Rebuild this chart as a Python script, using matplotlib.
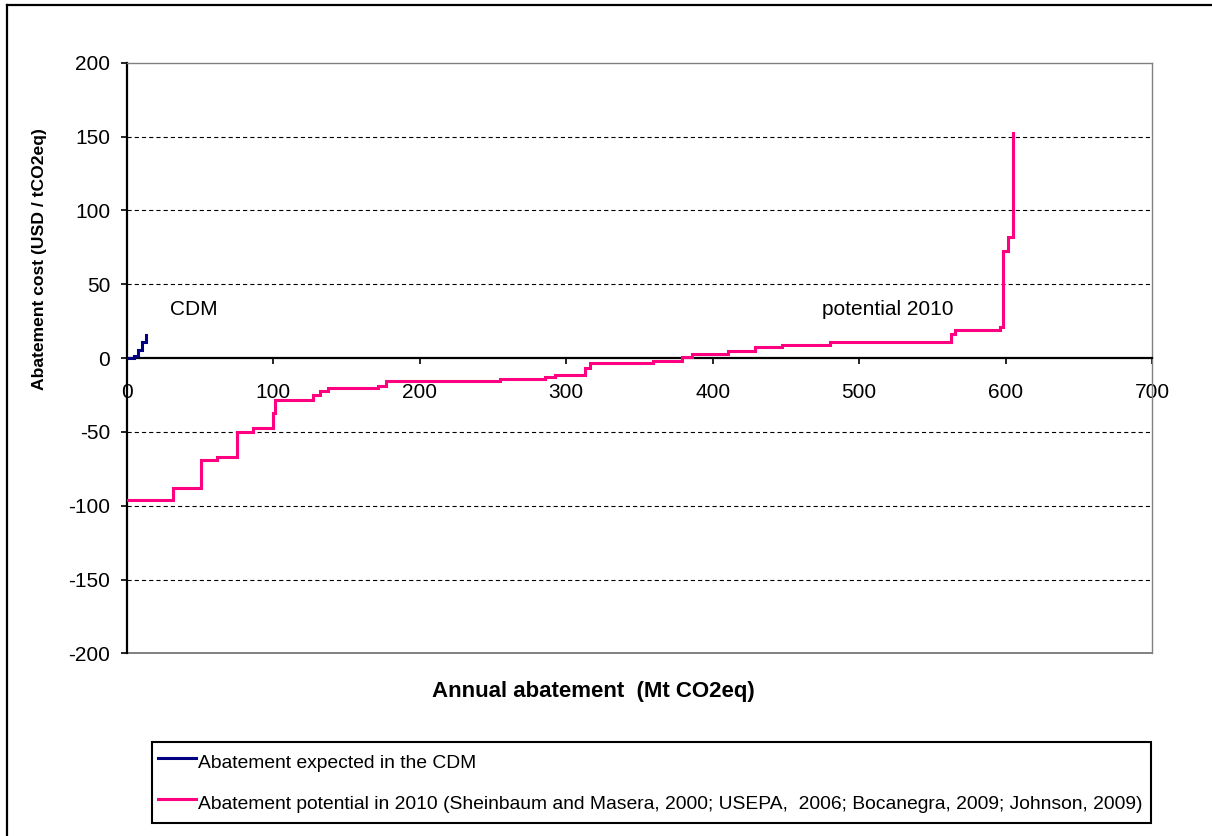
import matplotlib
matplotlib.use("Agg")
import matplotlib.pyplot as plt
from matplotlib.lines import Line2D

plt.rcParams['font.family'] = ['Liberation Sans', 'DejaVu Sans']
plt.rcParams['lines.scale_dashes'] = False
plt.rcParams['axes.unicode_minus'] = False

# abatement cost curves: start of each step (Mt CO2eq) and cost level (USD / tCO2eq)
cdm_x = [0, 4.6, 7.9, 10.2, 13.1]
cdm_y = [0, 1.4, 5.5, 11.1, 15.6]

pot_x = [0, 31.8, 50.7, 61.8, 75.4, 86.4, 100, 101.2, 127.3, 131.9, 137.4,
         171.5, 177, 254.8, 285.5, 292.3, 312.8, 316.5, 359.2, 379, 385.8,
         410.4, 428.8, 447.3, 480, 563, 565.4, 596.1, 598.2, 601.6, 604.8]
pot_y = [-96, -88.2, -69, -67.2, -50.3, -47.1, -37, -28.4, -25, -22, -20.5,
         -19, -15.3, -14.3, -12.9, -11.6, -6.5, -3.2, -1.8, 0.6, 2.7,
         4.7, 7.6, 9, 11.2, 16.6, 18.9, 21, 72.8, 81.8, 152.4]

x_ticks = [0, 100, 200, 300, 400, 500, 600, 700]
y_ticks = [-200, -150, -100, -50, 0, 50, 100, 150, 200]

cdm_label = 'Abatement expected in the CDM'
pot_label = ('Abatement potential in 2010 (Sheinbaum and Masera, 2000; USEPA,  2006; '
             'Bocanegra, 2009; Johnson, 2009)')

fig = plt.figure(figsize=(12.12, 8.36), dpi=100)
ax = fig.add_axes([126.8 / 1212, 1 - 653.3 / 836, 1025.2 / 1212, 590.4 / 836])

ax.step(cdm_x, cdm_y, where='post', color='#000080', lw=2.2, label=cdm_label,
        solid_joinstyle='miter', zorder=4)
ax.step(pot_x, pot_y, where='post', color='#FF0080', lw=2.2, label=pot_label,
        solid_joinstyle='miter', zorder=4)

ax.set_xlim(0, 700)
ax.set_ylim(-200, 200)
ax.set_xticks(x_ticks)
ax.set_yticks(y_ticks)

# x axis crosses at zero
ax.spines['bottom'].set_position(('data', 0))
ax.spines['bottom'].set_linewidth(1.6)
ax.spines['left'].set_linewidth(1.6)
for s in ['top', 'right']:
    ax.spines[s].set_color('#808080')
    ax.spines[s].set_linewidth(1.0)
ax.axhline(-200, color='#808080', lw=1.4, clip_on=False, zorder=1)

ax.yaxis.grid(True, color='black', lw=0.8, linestyle=(0, (3.0, 2.2)))
for t, v in zip(ax.yaxis.get_major_ticks(), y_ticks):
    if v in (-200, 0, 200):
        t.gridline.set_visible(False)

ax.tick_params(axis='x', direction='out', length=4, width=1.2, pad=14, labelsize=15)
ax.tick_params(axis='y', direction='out', length=4, width=1.2, pad=8, labelsize=15)

ax.set_xlabel('Annual abatement  (Mt CO2eq)', fontsize=16, fontweight='bold')
ax.xaxis.label.set_va('center')
ax.xaxis.set_label_coords(0.4548, -0.0655)
ax.set_ylabel('Abatement cost (USD / tCO2eq)', fontsize=12.6, fontweight='bold')
ax.yaxis.label.set_va('center')
ax.yaxis.set_label_coords(-0.0856, 0.668)

ax.text(29.5, 32.6, 'CDM', fontsize=15, va='center', ha='left')
ax.text(474.7, 32.6, 'potential 2010', fontsize=15, va='center', ha='left')

leg = fig.legend(loc='upper left',
                 bbox_to_anchor=(152 / 1212, 1 - 742 / 836, 999 / 1212, 0),
                 mode='expand', borderaxespad=0, fancybox=False,
                 edgecolor='black', framealpha=1, fontsize=13.85,
                 handlelength=2.0, handletextpad=0.1, handleheight=1.9,
                 labelspacing=0.66, borderpad=0.3)
leg.get_frame().set_linewidth(1.5)

# outer chart border (cropped at right and bottom)
fig.add_artist(Line2D([7 / 1212, 7 / 1212], [0, 1 - 5 / 836], color='black', lw=1.6))
fig.add_artist(Line2D([7 / 1212, 1], [1 - 5 / 836, 1 - 5 / 836], color='black', lw=1.6))

fig.savefig('out.png', dpi=100)
